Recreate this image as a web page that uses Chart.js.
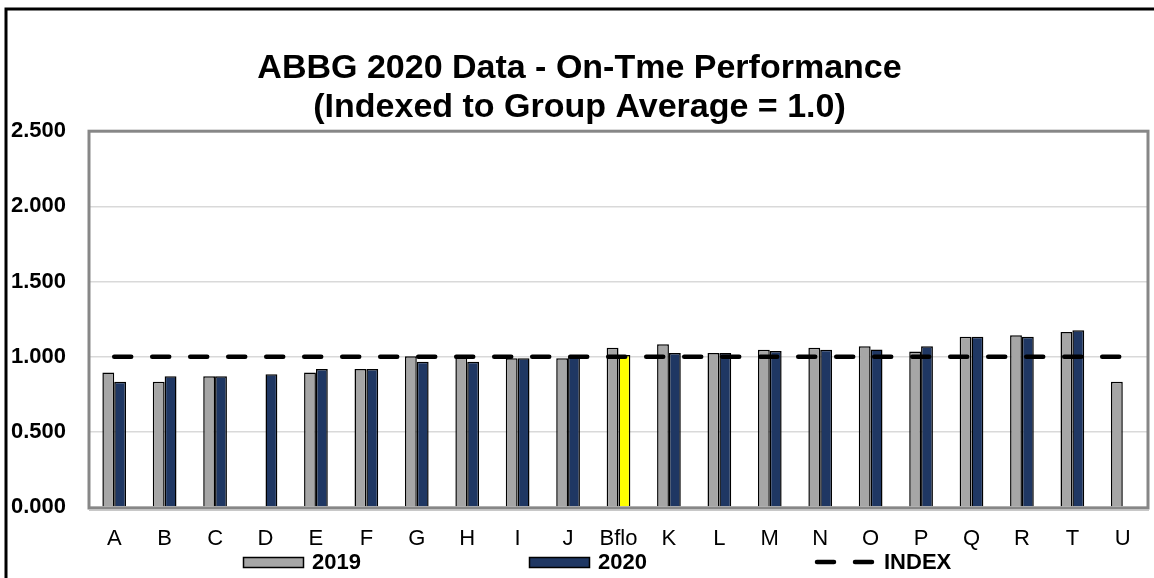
<!DOCTYPE html>
<html>
<head>
<meta charset="utf-8">
<title>ABBG 2020 Data - On-Time Performance</title>
<script src="https://cdn.jsdelivr.net/npm/chart.js@4.4.1/dist/chart.umd.min.js"></script>
<style>
  body { margin: 0; background: #fff; }
  #wrap { width: 1154px; height: 578px; position: relative; }
</style>
</head>
<body>
<div id="wrap"><canvas id="chartOtp"></canvas></div>
<script>
// data
const categories = ['A', 'B', 'C', 'D', 'E', 'F', 'G', 'H', 'I', 'J', 'Bflo', 'K', 'L', 'M', 'N', 'O', 'P', 'Q', 'R', 'T', 'U'];
const values2019 = [0.894, 0.834, 0.869, null, 0.894, 0.918, 1.003, 1.003, 0.989, 0.989, 1.060, 1.082, 1.024, 1.046, 1.060, 1.070, 1.035, 1.132, 1.143, 1.165, 0.834];
const values2020 = [0.834, 0.869, 0.869, 0.883, 0.918, 0.918, 0.967, 0.967, 0.989, 1.002, 1.011, 1.024, 1.024, 1.037, 1.046, 1.048, 1.070, 1.132, 1.132, 1.176, null];
const indexValues = [1, 1, 1, 1, 1, 1, 1, 1, 1, 1, 1, 1, 1, 1, 1, 1, 1, 1, 1, 1, 1];
const yTicks = [0, 0.5, 1, 1.5, 2, 2.5];

const FONT = '"Liberation Sans", Arial, sans-serif';
const grey = '#A6A6A6';
const navy = '#1F3763';
const highlight = '#FFFF00';

// Bflo gets the yellow bar in 2020
const colors2020 = categories.map(c => c === 'Bflo' ? highlight : navy);

// legend item start positions (x) and row y
const legendX = [243, 529, 815];
const legendY = 562;

const framePlugin = {
    id: 'frame',
    beforeDraw(chart) {
        const ctx = chart.ctx;
        ctx.save();
        ctx.fillStyle = '#fff';
        ctx.fillRect(0, 0, chart.width, chart.height);
        // outer black border (runs off the right and bottom edge)
        ctx.strokeStyle = '#000';
        ctx.lineWidth = 3;
        ctx.beginPath();
        ctx.moveTo(6, chart.height + 5);
        ctx.lineTo(6, 9);
        ctx.lineTo(chart.width + 5, 9);
        ctx.stroke();
        ctx.restore();
    },
    beforeDatasetsDraw(chart) {
        const a = chart.chartArea;
        const ctx = chart.ctx;
        ctx.save();
        ctx.strokeStyle = '#878787';
        ctx.lineWidth = 3;
        ctx.strokeRect(a.left, a.top, a.right - a.left, a.bottom - a.top + 1);
        // faint shadow under the bottom edge
        ctx.strokeStyle = '#C8C8C8';
        ctx.lineWidth = 1;
        ctx.beginPath();
        ctx.moveTo(a.left, a.bottom + 3.5);
        ctx.lineTo(a.right + 1, a.bottom + 3.5);
        ctx.stroke();
        ctx.restore();
    }
};

const legendPlugin = {
    id: 'bottomLegend',
    afterDraw(chart) {
        const ctx = chart.ctx;
        ctx.save();
        ctx.font = 'bold 22px ' + FONT;
        ctx.textBaseline = 'middle';
        ctx.fillStyle = '#000';
        chart.data.datasets.forEach((ds, i) => {
            const x = legendX[i];
            if (ds.type === 'line') {
                ctx.strokeStyle = ds.borderColor;
                ctx.lineWidth = ds.borderWidth;
                ctx.lineCap = 'round';
                ctx.setLineDash(ds.borderDash);
                ctx.beginPath();
                ctx.moveTo(x + 2, legendY);
                ctx.lineTo(x + 57, legendY);
                ctx.stroke();
                ctx.setLineDash([]);
            } else {
                ctx.fillStyle = ds.legendColor;
                ctx.fillRect(x, legendY - 5, 60, 10);
                ctx.strokeStyle = '#000';
                ctx.lineWidth = 1.5;
                ctx.strokeRect(x + 0.5, legendY - 4.5, 60, 10);
            }
            ctx.fillStyle = '#000';
            ctx.fillText(ds.label, x + 69, legendY + 1);
        });
        ctx.restore();
    }
};

const chartOtp = new Chart(document.getElementById('chartOtp'), {
    type: 'bar',
    data: {
        labels: categories,
        datasets: [
            {
                label: '2019',
                data: values2019,
                backgroundColor: grey,
                legendColor: grey,
                borderColor: '#000',
                borderWidth: 1.5,
                order: 1
            },
            {
                label: '2020',
                data: values2020,
                backgroundColor: colors2020,
                legendColor: navy,
                borderColor: '#000',
                borderWidth: 1.5,
                order: 2
            },
            {
                type: 'line',
                label: 'INDEX',
                data: indexValues,
                borderColor: '#000',
                borderWidth: 4.5,
                borderDash: [17, 21],
                borderCapStyle: 'round',
                pointRadius: 0,
                fill: false,
                order: 0
            }
        ]
    },
    options: {
        responsive: true,
        maintainAspectRatio: false,
        animation: false,
        datasets: {
            bar: { categoryPercentage: 0.47, barPercentage: 1 }
        },
        layout: {
            padding: { left: 11, right: 6, top: 10, bottom: 26 }
        },
        plugins: {
            legend: { display: false },
            tooltip: { enabled: false },
            title: {
                display: true,
                text: ['ABBG 2020 Data - On-Tme Performance', '(Indexed to Group Average = 1.0)'],
                color: '#000',
                font: { family: FONT, size: 34, weight: 'bold', lineHeight: 1.15 },
                padding: { top: 39, bottom: 4 }
            }
        },
        scales: {
            x: {
                grid: { display: false },
                border: { display: false },
                ticks: {
                    color: '#000',
                    font: { family: FONT, size: 22 },
                    padding: 11,
                    maxRotation: 0,
                    autoSkip: false
                },
                afterFit: axis => { axis.height = 45; }
            },
            y: {
                min: 0,
                max: 2.5,
                afterBuildTicks: axis => { axis.ticks = yTicks.map(v => ({ value: v })); },
                grid: { color: '#D9D9D9', lineWidth: 1.5, drawTicks: false },
                border: { display: false },
                ticks: {
                    color: '#000',
                    crossAlign: 'far',
                    padding: 8,
                    font: { family: FONT, size: 22, weight: 'bold', lineHeight: 1 },
                    callback: v => Number(v).toFixed(3)
                },
                afterFit: axis => { axis.width = 78; }
            }
        }
    },
    plugins: [framePlugin, legendPlugin]
});
</script>
</body>
</html>
